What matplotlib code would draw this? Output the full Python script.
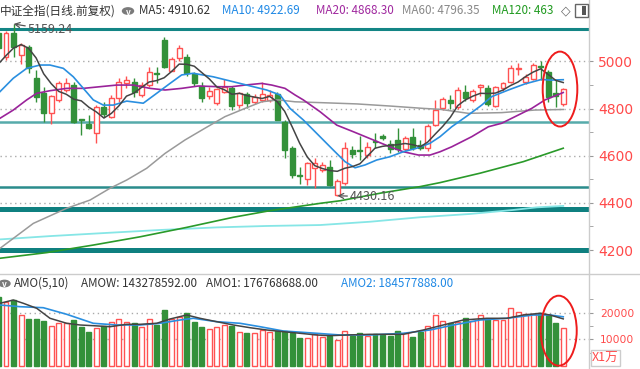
import matplotlib
matplotlib.use("Agg")
import matplotlib.pyplot as plt
from matplotlib.patches import Rectangle, Ellipse, Circle
from matplotlib.lines import Line2D
from matplotlib.transforms import Bbox, TransformedBbox

plt.rcParams['font.family'] = ['Noto Sans CJK SC', 'DejaVu Sans']

# ---------------- data ----------------
opens = [5120, 5020, 5122, 5028, 5063, 4929, 4865, 4783, 4837, 4879,
         4900, 4757, 4735, 4695, 4806, 4766, 4844, 4909, 4914, 4858,
         4900, 4952, 5091, 4961, 5014, 5020, 4947, 4897, 4854, 4823,
         4872, 4889, 4815, 4862, 4829, 4837, 4837, 4862, 4745, 4632,
         4517, 4500, 4548, 4539, 4554, 4433, 4483, 4624, 4626, 4603,
         4662, 4684, 4650, 4667, 4627, 4681, 4646, 4632, 4731, 4804,
         4837, 4808, 4872, 4837, 4893, 4889, 4812, 4886, 4914, 4968,
         4912, 4926, 4982, 4957, 4866, 4818]
highs = [5130, 5130, 5159.24, 5077, 5070, 4964, 4893, 4858, 4917, 4930,
         4915, 4757, 4773, 4815, 4830, 4858, 4930, 4939, 4930, 4915,
         4977, 4977, 5102, 5018, 5070, 5030, 4955, 4913, 4893, 4889,
         4926, 4896, 4872, 4872, 4862, 4911, 4880, 4870, 4752, 4640,
         4553, 4575, 4590, 4575, 4582, 4502, 4660, 4640, 4683, 4660,
         4697, 4692, 4667, 4718, 4684, 4718, 4667, 4735, 4837, 4850,
         4858, 4890, 4900, 4885, 4904, 4900, 4897, 4913, 4985, 4992,
         4945, 4994, 5004, 4964, 4921, 4887]
lows = [5045, 5005, 5020, 4991, 4950, 4830, 4744, 4733, 4830, 4870,
        4740, 4688, 4712, 4653, 4764, 4760, 4830, 4887, 4851, 4849,
        4893, 4907, 4971, 4958, 5000, 4940, 4896, 4828, 4841, 4816,
        4868, 4796, 4802, 4802, 4820, 4830, 4827, 4752, 4590, 4505,
        4481, 4478, 4462, 4530, 4470, 4430.16, 4478, 4590, 4582, 4590,
        4632, 4667, 4612, 4616, 4616, 4624, 4624, 4620, 4726, 4795,
        4800, 4800, 4832, 4830, 4852, 4811, 4808, 4875, 4910, 4943,
        4905, 4920, 4921, 4830, 4808, 4810]
closes = [5056, 5120, 5063, 5070, 4971, 4851, 4783, 4854, 4907, 4909,
          4745, 4752, 4717, 4808, 4777, 4844, 4914, 4921, 4872, 4900,
          4957, 4947, 4978, 5009, 5056, 4950, 4907, 4844, 4875, 4882,
          4893, 4811, 4865, 4825, 4851, 4862, 4858, 4752, 4624, 4518,
          4512, 4568, 4569, 4561, 4476, 4494, 4633, 4607, 4622, 4638,
          4658, 4674, 4627, 4627, 4674, 4632, 4632, 4726, 4794, 4841,
          4823, 4879, 4846, 4875, 4900, 4818, 4893, 4907, 4971, 4974,
          4936, 4985, 4978, 4851, 4852, 4883]
amount = [25800, 23900, 24800, 19140, 17630, 17630, 16880, 15120, 16000, 16000,
          17260, 14740, 12860, 14360, 15000, 16620, 17520, 16620, 16240, 14510,
          17520, 15380, 21020, 17520, 18270, 19780, 16390, 14740, 13760, 14740,
          15380, 15000, 12860, 12480, 12480, 13500, 12860, 13120, 13240, 12480,
          10600, 10600, 12000, 10980, 11240, 9740, 13240, 11240, 12260, 11360,
          11880, 11620, 11240, 13120, 12260, 10980, 12630, 15120, 19140, 17000,
          16020, 16620, 17900, 16880, 19140, 17520, 17260, 17260, 21660, 20380,
          19400, 19400, 19780, 19140, 16020, 14360]

ma5 = [4990, 5025, 5057, 5072, 5056, 5015, 4948, 4906, 4873, 4861,
       4840, 4833, 4806, 4786, 4760, 4780, 4812, 4853, 4866, 4890,
       4913, 4919, 4931, 4958, 4989, 4988, 4980, 4953, 4926, 4892,
       4880, 4861, 4865, 4855, 4849, 4843, 4852, 4830, 4789, 4723,
       4653, 4595, 4558, 4546, 4537, 4534, 4547, 4554, 4566, 4599,
       4632, 4640, 4644, 4647, 4652, 4647, 4638, 4658, 4692, 4725,
       4763, 4813, 4837, 4853, 4865, 4864, 4866, 4879, 4898, 4913,
       4936, 4955, 4969, 4945, 4920, 4910.62]

ma10_x = [0.2, 1.97, 3.75, 5.52, 6.84, 8.61, 9.94, 11.27, 12.59, 13.92, 15.25, 17.03,
          19.23, 21.01, 22.78, 24.33, 25.87, 28.53, 31.19, 33.84, 35.62, 37.39, 38.72,
          40.48, 42.26, 44.47, 46.02, 47.35, 48.68, 50.23, 51.99, 53.76, 55.54, 57.31,
          58.64, 60.19, 62.4, 64.17, 65.5, 67.71, 69.92, 72.14, 73.24, 75.0]
ma10_y = [4872, 4929, 4971, 4985, 4985, 4971, 4935, 4886, 4837, 4815, 4815, 4832,
          4823, 4865, 4907, 4943, 4950, 4935, 4914, 4893, 4879, 4858, 4801,
          4752, 4695, 4624, 4575, 4549, 4561, 4582, 4596, 4617, 4632, 4653,
          4681, 4723, 4773, 4815, 4851, 4879, 4905, 4924, 4921, 4922.69]

ma20_x = [0.2, 1.97, 3.75, 5.08, 6.84, 9.06, 11.27, 13.48, 15.7, 17.9, 20.12, 22.12,
          24.33, 26.54, 29.19, 30.97, 32.74, 34.96, 36.29, 38.05, 39.38, 40.48, 42.7,
          44.92, 47.12, 49.78, 51.99, 53.76, 55.76, 57.31, 58.64, 60.19, 62.85, 65.05,
          66.83, 68.6, 70.81, 72.58, 75.0]
ma20_y = [4759, 4794, 4837, 4865, 4876, 4886, 4886, 4893, 4900, 4900, 4886, 4879,
          4886, 4896, 4893, 4893, 4900, 4907, 4900, 4886, 4858, 4837, 4787,
          4730, 4702, 4667, 4638, 4617, 4603, 4603, 4617, 4638, 4681, 4723,
          4738, 4766, 4801, 4837, 4868.30]

ma60_x = [0.2, 4.63, 9.06, 12.16, 14.81, 17.03, 19.69, 22.12, 24.77, 27.43, 30.08,
          32.74, 34.96, 37.16, 39.38, 43.14, 47.57, 51.99, 56.42, 58.64, 62.4, 66.83,
          71.25, 75.0]
ma60_y = [4207, 4313, 4377, 4412, 4462, 4497, 4547, 4610, 4667, 4717, 4766,
          4801, 4829, 4837, 4829, 4825, 4820, 4811, 4801, 4797, 4780, 4783,
          4794, 4796.35]

ma120_x = [0.2, 6.41, 12.59, 18.8, 24.99, 31.19, 36.06, 42.7, 45.36, 50.67, 55.98,
           58.64, 63.95, 69.7, 75.0]
ma120_y = [4165, 4189, 4221, 4256, 4296, 4339, 4367, 4398, 4409, 4441, 4469,
           4486, 4526, 4575, 4632]

ma250_x = [0.2, 6.84, 13.48, 21.45, 28.98, 35.62, 42.7, 49.34, 55.98, 62.62, 68.37,
           71.48, 75.0]
ma250_y = [4245, 4259, 4271, 4285, 4296, 4302, 4306, 4320, 4339, 4353, 4370,
           4381, 4387]

amo1_x = [0.2, 1.97, 3.3, 5.08, 6.84, 9.06, 10.83, 12.59, 14.81, 17.03, 18.8, 21.01,
          22.78, 24.99, 26.76, 28.98, 31.19, 33.4, 35.62, 37.83, 40.04, 42.26, 44.03,
          46.25, 49.34, 53.76, 56.42, 59.07, 61.73, 64.84, 67.49, 69.7, 71.92, 73.24,
          75.0]
amo1_y = [23540, 24780, 23540, 21660, 17900, 16020, 15380, 15120, 14740, 15640, 15640,
          16020, 17630, 19140, 17900, 16620, 15380, 14360, 13500, 12860, 12260, 11620,
          11360, 11620, 11880, 11880, 13500, 15380, 17260, 17900, 17900, 19140, 19780,
          19140, 17677]
amo2_x = [0.2, 2.86, 5.95, 9.06, 12.59, 15.7, 18.8, 21.45, 24.11, 25.87, 28.98, 32.08,
          34.73, 37.83, 42.26, 45.36, 49.34, 53.76, 57.31, 60.41, 63.95, 67.49, 71.03,
          73.24, 75.0]
amo2_y = [22900, 22260, 21880, 19400, 16020, 15380, 15380, 16020, 17260, 17900, 16620,
          16020, 14740, 13120, 12260, 11620, 11620, 12260, 13500, 15380, 17260, 17900,
          19140, 19140, 18458]

support_levels = [5140, 4745, 4467, 4374, 4200]
price_ticks = [5000, 4800, 4600, 4400, 4200]
amount_ticks = [20000, 10000]

# ---------------- styles ----------------
W, H = 640, 369
GREEN = '#33913a'
RED = '#ff5252'
AXRED = '#ff4a4a'
HFS = 8.4


def box(x0, y0, x1, y1):
    return [x0 / W, 1 - y1 / H, (x1 - x0) / W, (y1 - y0) / H]


def fx(x):
    return x / W


def fy(y):
    return 1 - y / H


fig = plt.figure(figsize=(6.4, 3.69), dpi=100)
fig.patch.set_facecolor('white')

XL = (0.203, 78.42)
n = len(closes)

# ---------------- price panel ----------------
ax = fig.add_axes(box(0, 20, 589, 274))
ax.set_xlim(*XL)
ax.set_ylim(4098.2, 5176.1)
for s in ['top', 'left', 'bottom', 'right']:
    ax.spines[s].set_visible(False)
ax.set_xticks([])
ax.yaxis.tick_right()
ax.set_yticks(price_ticks)
ax.set_yticks([4900, 4700, 4500, 4300], minor=True)
ax.tick_params(axis='y', which='both', length=3, color='#999999', labelcolor=AXRED,
               labelsize=10, pad=3.5)
for lab in ax.get_yticklabels():
    lab.set_family('DejaVu Sans')
for t in price_ticks[:-1]:
    ax.axhline(t, color='#aaaaaa', lw=1, ls=(0, (1, 2.5)), zorder=0)

sup_styles = [('#138585', 2.2), ('#56abab', 1.8), ('#2a8c8c', 1.8),
              ('#0f8080', 3.6), ('#0f8080', 3.6)]
for lvl, (c, lw) in zip(support_levels, sup_styles):
    ax.axhline(lvl, color=c, lw=lw, zorder=1)

bw = 0.66
for i in range(n):
    o, h, l, c = opens[i], highs[i], lows[i], closes[i]
    up = c >= o
    col = RED if up else GREEN
    top, bot = max(o, c), min(o, c)
    ax.plot([i, i], [top, h], color=col, lw=1, zorder=2, solid_capstyle='butt')
    ax.plot([i, i], [l, bot], color=col, lw=1, zorder=2, solid_capstyle='butt')
    face = 'white' if up else col
    ax.add_patch(Rectangle((i - bw / 2, bot), bw, max(top - bot, 0.5),
                           facecolor=face, edgecolor=col, lw=1, zorder=2))

ax.plot(ma250_x, ma250_y, color='#86e6e6', lw=1.3, zorder=3)
ax.plot(ma120_x, ma120_y, color='#2a9a2a', lw=1.2, zorder=3)
ax.plot(ma60_x, ma60_y, color='#9a9a9a', lw=1.1, zorder=3)
ax.plot(ma20_x, ma20_y, color='#9a239a', lw=1.2, zorder=3)
ax.plot(ma10_x, ma10_y, color='#2a8fe0', lw=1.2, zorder=3)
ax.plot(range(n), ma5, color='#444444', lw=1.1, zorder=3)

ax.annotate('5159.24', xy=(2, 5159.24), xytext=(3.92, 5133.7), color='#555555',
            fontsize=9, ha='left', va='center',
            arrowprops=dict(arrowstyle='->', color='#555555', lw=0.9,
                            shrinkA=0, shrinkB=0), zorder=5)
ax.annotate('4430.16', xy=(45, 4430.16), xytext=(46.7, 4426), color='#555555',
            fontsize=9, ha='left', va='center',
            arrowprops=dict(arrowstyle='->', color='#555555', lw=0.9,
                            shrinkA=0, shrinkB=0), zorder=5)

ax.add_patch(Ellipse((74.57, 4883), 4.6, 318, fill=False, edgecolor='#ee1c1c',
                     lw=1.4, zorder=6))

# ---------------- amount panel ----------------
av = fig.add_axes(box(0, 274, 589, 369))
av.set_xlim(*XL)
av.set_ylim(-1166, 34554)
for s in ['top', 'left', 'bottom', 'right']:
    av.spines[s].set_visible(False)
av.set_xticks([])
av.yaxis.tick_right()
av.set_yticks(amount_ticks)
av.set_yticks([15000, 25000, 5000], minor=True)
av.tick_params(axis='y', which='both', length=3, color='#999999', labelcolor=AXRED,
               labelsize=7.7, pad=5)
for lab in av.get_yticklabels():
    lab.set_family('DejaVu Sans')
for t in amount_ticks:
    av.axhline(t, color='#aaaaaa', lw=1, ls=(0, (1, 2.5)), zorder=0)

for i in range(n):
    up = closes[i] >= opens[i]
    col = RED if up else GREEN
    face = 'white' if up else col
    av.add_patch(Rectangle((i - bw / 2, 0), bw, amount[i], facecolor=face,
                           edgecolor=col, lw=1, zorder=2))
av.plot(amo2_x, amo2_y, color='#2a8fe0', lw=1.2, zorder=3)
av.plot(amo1_x, amo1_y, color='#444444', lw=1.1, zorder=3)
av.add_patch(Ellipse((74.4, 13235), 4.78, 26320, fill=False, edgecolor='#ee1c1c',
                     lw=1.4, zorder=6))

# ---------------- frame lines ----------------
fig.add_artist(Line2D([fx(589), fx(589)], [0, 1], color='#cccccc', lw=1))
fig.add_artist(Line2D([0, 1], [fy(274), fy(274)], color='#cccccc', lw=1))

# ---------------- header texts ----------------
hy = fy(11)
fig.text(fx(0), hy, '中证全指(日线.前复权)', color='#333333', fontsize=HFS, va='center')
fig.add_artist(Circle((fx(128), hy), radius=5.5 / W, transform=fig.transFigure,
                      color='#7a7a7a'))
fig.text(fx(128), hy - 0.003, 'v', color='white', fontsize=6, ha='center', va='center',
         fontweight='bold')
fig.text(fx(139), hy, 'MA5: 4910.62', color='#333333', fontsize=HFS, va='center')
fig.text(fx(222), hy, 'MA10: 4922.69', color='#1e88e5', fontsize=HFS, va='center')
fig.text(fx(316), hy, 'MA20: 4868.30', color='#a0289f', fontsize=HFS, va='center')
fig.text(fx(402), hy, 'MA60: 4796.35', color='#888888', fontsize=HFS, va='center')
t120 = fig.text(fx(492), hy, 'MA120: 463', color='#1f9a1f', fontsize=HFS, va='center')
t120.set_clip_box(TransformedBbox(Bbox([[0, 0], [fx(556), 1]]), fig.transFigure))
t120.set_clip_on(True)
fig.text(fx(566), hy, '◇', color='#666666', fontsize=9, ha='center', va='center',
         zorder=6, family=['DejaVu Sans'])
fig.add_artist(Rectangle((fx(575), fy(17)), fx(13), 13 / H, transform=fig.transFigure,
                         facecolor='white', edgecolor='#666666', lw=1, zorder=6))
fig.add_artist(Rectangle((fx(582), fy(15)), fx(4), 9 / H, transform=fig.transFigure,
                         facecolor='#555555', edgecolor='none', zorder=7))

vy = fy(283.5)
fig.add_artist(Circle((fx(4.5), vy), radius=5.5 / W, transform=fig.transFigure,
                      color='#7a7a7a', zorder=5))
fig.text(fx(4.5), vy - 0.003, 'v', color='white', fontsize=6, ha='center', va='center',
         fontweight='bold', zorder=6)
fig.text(fx(14), vy, 'AMO(5,10)', color='#333333', fontsize=HFS, va='center')
fig.text(fx(81), vy, 'AMOW: 143278592.00', color='#333333', fontsize=HFS, va='center')
fig.text(fx(206), vy, 'AMO1: 176768688.00', color='#333333', fontsize=HFS, va='center')
fig.text(fx(341), vy, 'AMO2: 184577888.00', color='#1e88e5', fontsize=HFS, va='center')

fig.add_artist(Rectangle((fx(591), fy(366)), fx(29), 16 / H, transform=fig.transFigure,
                         facecolor='white', edgecolor='#cccccc', lw=1))
fig.text(fx(605.5), fy(358), 'X1万', color=AXRED, fontsize=9, ha='center', va='center')

fig.savefig('out.png', dpi=100)
